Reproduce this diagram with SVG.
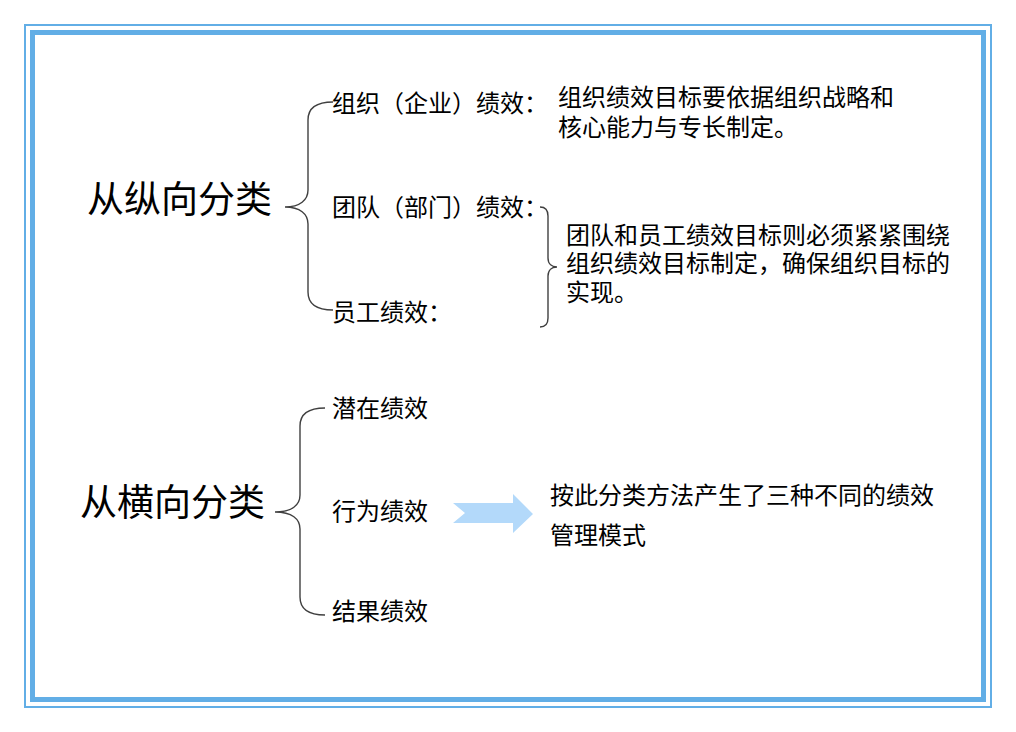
<svg xmlns="http://www.w3.org/2000/svg" width="1016" height="732" viewBox="0 0 1016 732">
<style>
.t{font-family:"Noto Sans CJK SC","Noto Sans CJK JP",sans-serif;fill:#000}
.big{font-size:37px}
.mid{font-size:24px}
.desc{font-size:24px}
.br{fill:none;stroke:#404040;stroke-width:1.4}
</style>
<rect width="1016" height="732" fill="#fff"/>
<g id="frame">
<rect x="25" y="25" width="966" height="682" fill="none" stroke="#62AEE6" stroke-width="2"/>
<rect x="32.5" y="32.5" width="951" height="667" fill="none" stroke="#62AEE6" stroke-width="5"/>
</g>
<g id="connectors">
<path class="br" d="M333,102 C316,102 308,108 308,120 L308,190 C308,200 300,207 285,207 C300,207 308,214 308,224 L308,292 C308,304 316,310 333,310"/>
<path class="br" d="M540,207 C546,207 548,210 548,216 L548,258 C548,264 552,267 557,267 C552,267 548,270 548,276 L548,318 C548,324 546,327 540,327"/>
<path class="br" d="M325,408 C308,408 300,414 300,426 L300,495 C300,505 292,512 275,512 C292,512 300,519 300,529 L300,597 C300,609 308,615 325,615"/>
<polygon points="453,503 513,503 513,494 533,514 513,533 513,523 453,523 465,513" fill="#B3D9FA"/>
</g>
<g id="vertical"><text class="t big" x="87" y="213">从纵向分类</text></g>
<g id="horizontal"><text class="t big" x="80" y="516">从横向分类</text></g>
<g id="org"><text class="t mid" x="332" y="112">组织（企业）绩效：</text></g>
<g id="team"><text class="t mid" x="332" y="216">团队（部门）绩效：</text></g>
<g id="staff"><text class="t mid" x="332" y="321">员工绩效：</text></g>
<g id="desc1"><text class="t desc" x="558" y="106">组织绩效目标要依据组织战略和</text><text class="t desc" x="558" y="136">核心能力与专长制定。</text></g>
<g id="desc2"><text class="t desc" x="566" y="244">团队和员工绩效目标则必须紧紧围绕</text><text class="t desc" x="566" y="272">组织绩效目标制定，确保组织目标的</text><text class="t desc" x="566" y="301">实现。</text></g>
<g id="potential"><text class="t mid" x="332" y="417">潜在绩效</text></g>
<g id="behavior"><text class="t mid" x="332" y="520">行为绩效</text></g>
<g id="result"><text class="t mid" x="332" y="620">结果绩效</text></g>
<g id="desc3"><text class="t desc" x="550" y="504">按此分类方法产生了三种不同的绩效</text><text class="t desc" x="550" y="544">管理模式</text></g>
</svg>
